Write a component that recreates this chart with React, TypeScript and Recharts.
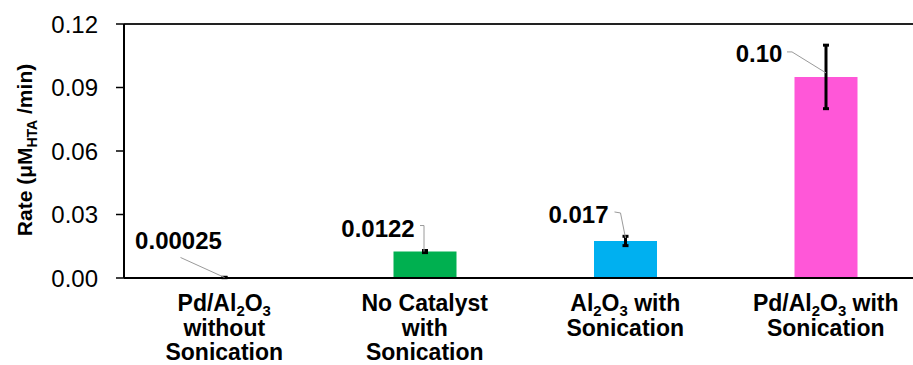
import React from 'react';
import {
  BarChart,
  Bar,
  XAxis,
  YAxis,
  ErrorBar,
  LabelList,
  ReferenceLine,
  Cell,
} from 'recharts';

// categories, one entry per line; {n} marks a subscript
const categories = [
  ['Pd/Al{2}O{3}', 'without', 'Sonication'],
  ['No Catalyst', 'with', 'Sonication'],
  ['Al{2}O{3} with', 'Sonication'],
  ['Pd/Al{2}O{3} with', 'Sonication'],
];
const rates = [0.00025, 0.0125, 0.0175, 0.095];
const rateErrors = [0.0001, 0.0005, 0.0022, 0.015];
const rateLabels = ['0.00025', '0.0122', '0.017', '0.10'];
const yTicks = [0, 0.03, 0.06, 0.09, 0.12];

const barColors = ['#000000', '#00B050', '#00B0F0', '#FF57D8'];

// label placement relative to bar top centre: text centre/baseline + leader line points
const labelLayout = [
  { dx: -46, dy: -28, leader: [[-44, -20], [0, 0]] },
  { dx: -47, dy: -15, leader: [[-5, -26], [-1, -26], [-1, 0]] },
  { dx: -47, dy: -18, leader: [[-11, -29], [-5, -28], [0, -3]] },
  { dx: -67, dy: -15, leader: [[-39, -25], [-34, -25], [0, -4]] },
];

const data = categories.map((c, i) => ({
  name: c.join(' '),
  rate: rates[i],
  err: rateErrors[i],
  label: rateLabels[i],
}));

const FONT = '"Liberation Sans", Arial, sans-serif';

const renderSubText = (line: string, fontSize: number) => {
  const parts = line.split(/\{(\d+)\}/);
  const out: React.ReactNode[] = [];
  let shifted = false;
  parts.forEach((p, i) => {
    if (p === '') return;
    if (i % 2 === 1) {
      out.push(
        <tspan key={i} fontSize={fontSize * 0.65} dy={shifted ? 0 : 5}>
          {p}
        </tspan>
      );
      shifted = true;
    } else {
      out.push(
        <tspan key={i} dy={shifted ? -5 : 0}>
          {p}
        </tspan>
      );
      shifted = false;
    }
  });
  return out;
};

const CategoryTick = (props: any) => {
  const { x, y, index } = props;
  const lines = categories[index] || [];
  return (
    <g>
      {lines.map((line, i) => (
        <text
          key={i}
          x={x}
          y={y + 33 + i * 24.5}
          textAnchor="middle"
          fontFamily={FONT}
          fontWeight="bold"
          fontSize={23}
          fill="#000"
        >
          {renderSubText(line, 23)}
        </text>
      ))}
    </g>
  );
};

const RateLabel = (props: any) => {
  const { x, y, width, index } = props;
  const cx = x + width / 2;
  const layout = labelLayout[index];
  const pts = layout.leader.map(([px, py]) => `${cx + px},${y + py}`).join(' ');
  return (
    <g>
      <polyline points={pts} fill="none" stroke="#9a9a9a" strokeWidth={1} />
      <text
        x={cx + layout.dx}
        y={y + layout.dy}
        textAnchor="middle"
        fontFamily={FONT}
        fontWeight="bold"
        fontSize={24}
        fill="#000"
      >
        {rateLabels[index]}
      </text>
    </g>
  );
};

const YLabel = () => (
  <text
    transform="translate(32,150) rotate(-90)"
    textAnchor="middle"
    fontFamily={FONT}
    fontWeight="bold"
    fontSize={21}
    fill="#000"
  >
    <tspan>Rate (μM</tspan>
    <tspan fontSize={14} dy={5}>HTA</tspan>
    <tspan dy={-5}> /min)</tspan>
  </text>
);

export default function App() {
  return (
    <div
      style={{
        position: 'absolute',
        left: 0,
        top: 0,
        width: 913,
        height: 365,
        overflow: 'hidden',
        background: '#fff',
      }}
    >
      <BarChart
        width={926}
        height={365}
        data={data}
        margin={{ top: 24, right: 0, left: 0, bottom: 0 }}
      >
        <XAxis
          dataKey="name"
          height={87}
          tick={<CategoryTick />}
          tickLine={false}
          tickSize={0}
          tickMargin={0}
          axisLine={{ stroke: '#000', strokeWidth: 2 }}
          interval={0}
        />
        <YAxis
          width={124}
          domain={[0, 0.12]}
          ticks={yTicks}
          tickFormatter={(v: number) => v.toFixed(2)}
          tick={{ fontSize: 24, fill: '#000', fontFamily: FONT }}
          tickSize={8}
          tickMargin={18}
          tickLine={{ stroke: '#000', strokeWidth: 1.5 }}
          axisLine={{ stroke: '#000', strokeWidth: 2 }}
          label={<YLabel />}
        />
        <ReferenceLine y={0.12} stroke="#222" strokeWidth={2} />
        <Bar dataKey="rate" barSize={63} isAnimationActive={false}>
          {data.map((d, i) => (
            <Cell key={`cell-${i}`} fill={barColors[i]} />
          ))}
          <ErrorBar
            dataKey="err"
            width={3}
            strokeWidth={3}
            stroke="#000"
            direction="y"
            isAnimationActive={false}
          />
          <LabelList dataKey="label" content={<RateLabel />} />
        </Bar>
      </BarChart>
    </div>
  );
}
